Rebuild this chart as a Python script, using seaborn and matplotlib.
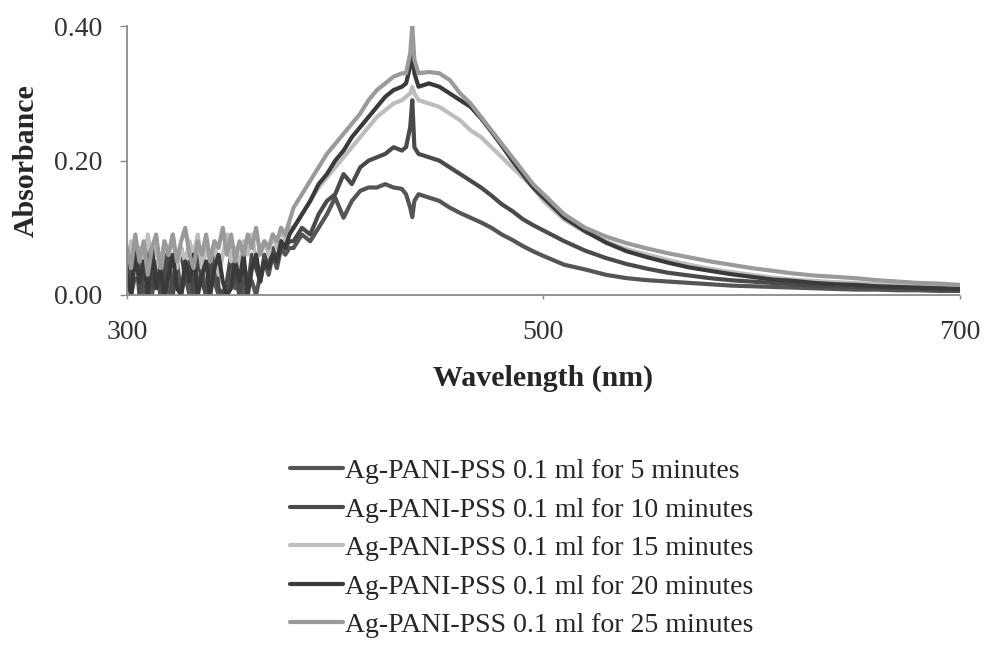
import numpy as np
import pandas as pd
import matplotlib
matplotlib.use("Agg")
import matplotlib.pyplot as plt
import seaborn as sns

# ---------------- data ----------------
wl_noise = list(range(300, 380, 2))
wl_rise = [380, 384, 388, 392, 396, 400, 404, 408, 412, 416, 420, 424, 428, 432]
wl_spike = [434, 436, 437, 438, 440]
wl_decay = [445, 450, 455, 460, 465, 470, 475, 480, 485, 490, 495, 500]
wl_tail = [510, 520, 530, 540, 550, 560, 570, 580, 590, 600,
           610, 620, 630, 640, 650, 660, 670, 680, 690, 700]
wavelength = wl_noise + wl_rise + wl_spike + wl_decay + wl_tail

abs_5min = (
    [0.04, 0.00, 0.03, 0.05, 0.00, 0.02, 0.00, 0.04, 0.01, 0.06,
     0.00, 0.02, 0.05, 0.00, 0.03, 0.00, 0.05, 0.01, 0.04, 0.00,
     0.06, 0.02, 0.00, -0.01, 0.00, 0.04, 0.01, 0.05, 0.00, 0.03,
     0.02, 0.00, 0.03, 0.05, 0.03, 0.06, 0.04, 0.07, 0.06, 0.07]
    + [0.07, 0.09, 0.08, 0.10, 0.12, 0.145, 0.115, 0.14, 0.155, 0.16, 0.16, 0.165, 0.16, 0.158]
    + [0.15, 0.13, 0.116, 0.14, 0.15]
    + [0.145, 0.14, 0.13, 0.122, 0.115, 0.108, 0.10, 0.09, 0.082, 0.073, 0.065, 0.058]
    + [0.045, 0.038, 0.030, 0.025, 0.022, 0.020, 0.018, 0.016, 0.014, 0.013,
       0.012, 0.011, 0.010, 0.009, 0.008, 0.008, 0.007, 0.007, 0.006, 0.006]
)
abs_10min = (
    [0.06, 0.02, 0.07, 0.00, 0.04, 0.07, 0.01, 0.05, 0.00, 0.03,
     0.06, 0.00, 0.04, 0.07, 0.02, 0.05, 0.00, 0.06, 0.02, 0.00,
     0.04, 0.07, 0.01, 0.00, 0.02, 0.06, 0.03, 0.00, 0.05, 0.01,
     0.06, 0.04, 0.02, 0.06, 0.04, 0.07, 0.05, 0.08, 0.07, 0.08]
    + [0.08, 0.10, 0.09, 0.12, 0.14, 0.15, 0.18, 0.165, 0.19, 0.20, 0.205, 0.21, 0.22, 0.215]
    + [0.22, 0.25, 0.29, 0.22, 0.21]
    + [0.205, 0.20, 0.19, 0.18, 0.17, 0.16, 0.148, 0.135, 0.125, 0.113, 0.104, 0.096]
    + [0.080, 0.066, 0.055, 0.046, 0.039, 0.033, 0.029, 0.025, 0.022, 0.020,
       0.018, 0.016, 0.014, 0.013, 0.012, 0.011, 0.010, 0.009, 0.008, 0.008]
)
abs_15min = (
    [0.05, 0.08, 0.03, 0.07, 0.04, 0.09, 0.05, 0.07, 0.03, 0.08,
     0.06, 0.09, 0.04, 0.07, 0.05, 0.08, 0.06, 0.09, 0.04, 0.07,
     0.05, 0.08, 0.03, 0.06, 0.09, 0.05, 0.07, 0.04, 0.08, 0.06,
     0.09, 0.05, 0.07, 0.08, 0.06, 0.09, 0.07, 0.10, 0.08, 0.10]
    + [0.10, 0.12, 0.14, 0.16, 0.175, 0.19, 0.205, 0.22, 0.235, 0.25, 0.265, 0.275, 0.285, 0.29]
    + [0.295, 0.30, 0.31, 0.30, 0.29]
    + [0.285, 0.28, 0.27, 0.26, 0.245, 0.235, 0.22, 0.205, 0.19, 0.175, 0.16, 0.14]
    + [0.112, 0.094, 0.080, 0.068, 0.060, 0.052, 0.045, 0.039, 0.034, 0.030,
       0.026, 0.023, 0.021, 0.019, 0.018, 0.016, 0.015, 0.013, 0.012, 0.011]
)
abs_20min = (
    [0.03, 0.00, 0.06, 0.02, 0.05, 0.00, 0.07, 0.01, 0.04, 0.00,
     0.03, 0.06, 0.01, 0.00, 0.05, 0.02, 0.06, 0.00, 0.03, 0.05,
     0.00, 0.04, 0.06, 0.02, 0.00, 0.01, 0.05, 0.02, 0.06, 0.00,
     0.04, 0.06, 0.02, 0.05, 0.04, 0.06, 0.05, 0.08, 0.07, 0.09]
    + [0.10, 0.12, 0.14, 0.165, 0.18, 0.20, 0.215, 0.235, 0.25, 0.265, 0.28, 0.295, 0.305, 0.31]
    + [0.315, 0.34, 0.38, 0.33, 0.31]
    + [0.315, 0.31, 0.30, 0.29, 0.28, 0.263, 0.243, 0.222, 0.20, 0.18, 0.16, 0.145]
    + [0.115, 0.095, 0.078, 0.065, 0.056, 0.048, 0.041, 0.036, 0.031, 0.027,
       0.023, 0.021, 0.018, 0.016, 0.015, 0.013, 0.012, 0.011, 0.010, 0.009]
)
abs_25min = (
    [0.07, 0.04, 0.09, 0.05, 0.08, 0.03, 0.07, 0.09, 0.04, 0.08,
     0.06, 0.09, 0.05, 0.08, 0.10, 0.06, 0.04, 0.08, 0.06, 0.09,
     0.05, 0.08, 0.07, 0.10, 0.06, 0.09, 0.05, 0.08, 0.06, 0.09,
     0.07, 0.10, 0.06, 0.08, 0.07, 0.09, 0.08, 0.10, 0.09, 0.11]
    + [0.13, 0.15, 0.17, 0.19, 0.21, 0.225, 0.24, 0.255, 0.27, 0.29, 0.305, 0.315, 0.325, 0.33]
    + [0.33, 0.36, 0.40, 0.35, 0.33]
    + [0.332, 0.33, 0.32, 0.30, 0.285, 0.265, 0.245, 0.225, 0.205, 0.185, 0.165, 0.15]
    + [0.120, 0.100, 0.087, 0.077, 0.069, 0.062, 0.056, 0.050, 0.045, 0.040,
       0.036, 0.032, 0.029, 0.027, 0.025, 0.022, 0.020, 0.018, 0.017, 0.015]
)

series_labels = [
    "Ag-PANI-PSS 0.1 ml for 5 minutes",
    "Ag-PANI-PSS 0.1 ml for 10 minutes",
    "Ag-PANI-PSS 0.1 ml for 15 minutes",
    "Ag-PANI-PSS 0.1 ml for 20 minutes",
    "Ag-PANI-PSS 0.1 ml for 25 minutes",
]
series_values = [abs_5min, abs_10min, abs_15min, abs_20min, abs_25min]
colors = ["#555555", "#4a4a4a", "#bdbdbd", "#3a3a3a", "#9a9a9a"]

x_ticks = [300, 500, 700]
y_ticks = [0.0, 0.2, 0.4]
y_tick_labels = ["0.00", "0.20", "0.40"]

# ---------------- figure ----------------
sns.set_theme(style="white")
plt.rcParams["font.family"] = ["Liberation Serif", "DejaVu Serif"]

frames = []
for lab, vals in zip(series_labels, series_values):
    frames.append(pd.DataFrame({"Wavelength": wavelength, "Absorbance": vals, "Series": lab}))
df = pd.concat(frames, ignore_index=True)

fig = plt.figure(figsize=(9.88, 6.57), dpi=100)
ax = fig.add_axes([0.1285, 0.551, 0.8432, 0.409])

sns.lineplot(data=df, x="Wavelength", y="Absorbance", hue="Series",
             hue_order=series_labels, palette=colors, estimator=None,
             linewidth=3.0, ax=ax, legend=True)

ax.set_xlim(300, 700)
ax.set_ylim(0, 0.40)
ax.set_xticks(x_ticks)
ax.set_xticklabels([str(t) for t in x_ticks])
ax.set_yticks(y_ticks)
ax.set_yticklabels(y_tick_labels)

for side in ["top", "right"]:
    ax.spines[side].set_visible(False)
for side in ["left", "bottom"]:
    ax.spines[side].set_linestyle((0, (1, 1)))
    ax.spines[side].set_color("#8a8a8a")
    ax.spines[side].set_linewidth(1.3)

ax.tick_params(axis="y", direction="out", length=5, width=1, color="#8a8a8a",
               pad=13, labelsize=20, labelcolor="#333333", left=True)
ax.tick_params(axis="x", direction="out", length=3, width=1, color="#8a8a8a",
               pad=15, labelsize=20, labelcolor="#333333", bottom=True)

ax.set_xlabel("Wavelength (nm)", fontsize=21.5, fontweight="bold", labelpad=14)
ax.set_ylabel("Absorbance", fontsize=21.5, fontweight="bold", labelpad=10)

handles, labels = ax.get_legend_handles_labels()
ax.get_legend().remove()
for h in handles:
    h.set_linewidth(3.0)
fig.legend(handles, labels, loc="upper left", bbox_to_anchor=(0.2935, 0.302),
           frameon=False, fontsize=20, handlelength=1.9, handletextpad=0.08,
           labelspacing=0.47, borderpad=0, borderaxespad=0)

fig.savefig("out.png", dpi=100)
